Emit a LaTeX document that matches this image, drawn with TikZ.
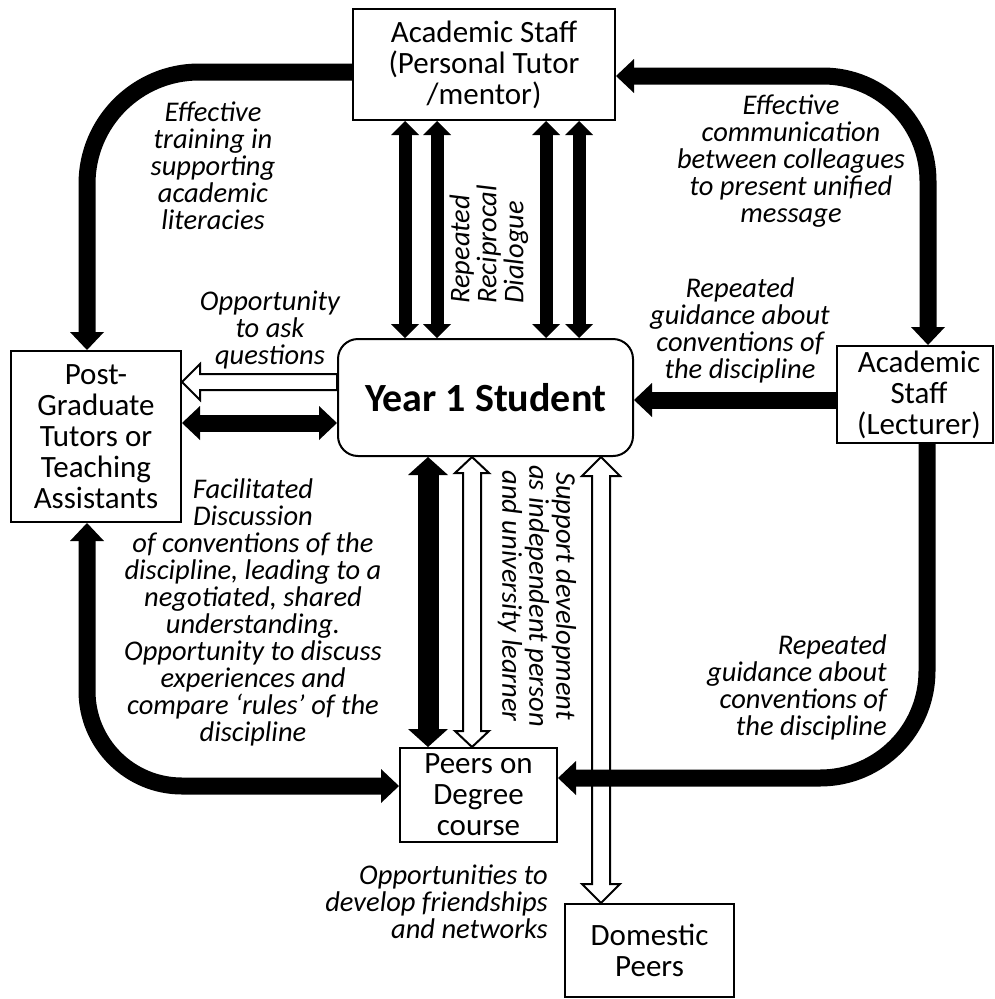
\documentclass[tikz,border=0pt]{standalone}
\usepackage{fontspec}
\setmainfont{Carlito}
\usetikzlibrary{arrows.meta,calc}

\tikzset{
  box/.style={draw, line width=2pt, fill=white, align=center, inner sep=0pt,
    font=\fontsize{31}{31}\selectfont},
  note/.style={align=center, inner sep=0pt, font=\fontsize{28.5}{27}\selectfont\itshape},
  smallhead/.tip={Triangle[width=28pt,length=14pt,line width=0pt]},
  midhead/.tip={Triangle[width=34pt,length=18pt,line width=0pt]},
  bighead/.tip={Triangle[width=40pt,length=18pt,line width=0pt]},
  thinbar/.style={line width=13pt, smallhead-smallhead},
  midbar/.style={line width=17pt},
  widebar/.style={line width=21pt, bighead-bighead},
  curvebar/.style={line width=17pt, rounded corners=#1},
  curvebar/.default=105pt,
  hollow/.style={draw, fill=white, line width=2pt, line join=miter},
}

% vertical outlined arrow with a head at both ends:
% top point, bottom point, head half width, shaft half width, head length
\newcommand\hollowpair[5]{%
  \path[hollow] let \p1=(#1), \p2=(#2) in
    (\x1,\y1) -- ({\x1+#3pt},{\y1-#5pt}) -- ({\x1+#4pt},{\y1-#5pt})
    -- ({\x1+#4pt},{\y2+#5pt}) -- ({\x1+#3pt},{\y2+#5pt}) -- (\x1,\y2)
    -- ({\x1-#3pt},{\y2+#5pt}) -- ({\x1-#4pt},{\y2+#5pt})
    -- ({\x1-#4pt},{\y1-#5pt}) -- ({\x1-#3pt},{\y1-#5pt}) -- cycle;}

% horizontal outlined arrow pointing left:
% tip point, tail point, head half width, shaft half width, head length
\newcommand\hollowleft[5]{%
  \path[hollow] let \p1=(#1), \p2=(#2) in
    (\x1,\y1) -- ({\x1+#5pt},{\y1+#3pt}) -- ({\x1+#5pt},{\y1+#4pt})
    -- (\x2,{\y1+#4pt}) -- (\x2,{\y1-#4pt}) -- ({\x1+#5pt},{\y1-#4pt})
    -- ({\x1+#5pt},{\y1-#3pt}) -- cycle;}

\begin{document}
\begin{tikzpicture}[x=1pt,y=-1pt]
\useasboundingbox[fill=white] (0,0) rectangle (994,999);

% boxes
\node[box, minimum width=262pt, minimum height=111pt] (tutor) at (484,64.5)
  {Academic Staff\\(Personal Tutor\\/mentor)};
\node[box, minimum width=170pt, minimum height=171pt] (pg) at (96,436.5)
  {Post-\\Graduate\\Tutors or\\Teaching\\Assistants};
\node[box, rounded corners=20pt, minimum width=295pt, minimum height=117pt,
  font=\fontsize{40}{40}\selectfont\bfseries] (yr) at (485.5,397.5) {Year 1 Student};
\node[box, minimum width=156pt, minimum height=97pt] (lec) at (915,394.5)
  {\hspace*{8pt}Academic\\\hspace*{8pt}Staff\\\hspace*{8pt}(Lecturer)};
\node[box, minimum width=157pt, minimum height=94pt] (peers) at (478.5,795)
  {Peers on\\Degree\\course};
\node[box, minimum width=169pt, minimum height=93pt] (dom) at (649.5,950.5)
  {Domestic\\Peers};

% guide coordinates for the connector lanes
\coordinate (tl) at (87,72);
\coordinate (tr) at (928,76);
\coordinate (bl) at (87,786);
\coordinate (br) at (927,778);
\coordinate (v1) at (405,0);
\coordinate (v2) at (437,0);
\coordinate (v3) at (546,0);
\coordinate (v4) at (579,0);
\coordinate (vp) at (428,0);
\coordinate (vh) at (472,0);
\coordinate (vd) at (601,0);
\coordinate (hq) at (0,382);
\coordinate (hb) at (0,423);
\coordinate (hl) at (0,400);

% outlined arrows
\hollowleft{pg.east |- hq}{yr.west |- hq}{18}{8}{18}
\hollowpair{yr.south -| vh}{peers.north -| vh}{17}{9}{16}
\hollowpair{yr.south -| vd}{dom.north -| vd}{19}{9}{19}

% solid straight arrows
\draw[thinbar] (tutor.south -| v1) -- (yr.north -| v1);
\draw[thinbar] (tutor.south -| v2) -- (yr.north -| v2);
\draw[thinbar] (tutor.south -| v3) -- (yr.north -| v3);
\draw[thinbar] (tutor.south -| v4) -- (yr.north -| v4);
\draw[midbar, midhead-midhead] (pg.east |- hb) -- (yr.west |- hb);
\draw[midbar, -midhead] (lec.west |- hl) -- (yr.east |- hl);
\draw[widebar] (yr.south -| vp) -- (peers.north -| vp);

% solid curved arrows around the outside
\draw[curvebar=112pt, -midhead] (tutor.west |- tl) -| (pg.north -| tl);
\draw[curvebar=105pt, midhead-midhead] (lec.north -| tr) |- (tutor.east |- tr);
\draw[curvebar=95pt, midhead-midhead] (pg.south -| bl) |- (peers.west |- bl);
\draw[curvebar=107pt, -midhead] (lec.south -| br) |- (peers.east |- br);

% labels
\node[note] (t1) at (213,166) {Effective\\training in\\supporting\\academic\\literacies};
\node[note] (t2) at (791,161) {Effective\\communication\\between colleagues\\to present unified\\message};
\node[note] (t3) at (740,330) {Repeated\\guidance about\\conventions of\\the discipline};
\node[note] (t4) at (270,330) {Opportunity\\to ask\\questions};
\node[note, align=left, rotate=90, anchor=west] (t5) at (489,304) {Repeated\\Reciprocal\\Dialogue};
\node[note, rotate=-90] (t6) at (537,596) {Support development\\as independent person\\and university learner};
\node[note] (t7) at (253,612) {Facilitated\\Discussion\\of conventions of the\\discipline, leading to a\\negotiated, shared\\understanding.\\Opportunity to discuss\\experiences and\\compare ‘rules’ of the\\discipline};
\node[note, align=right, anchor=east] (t8) at (887,687) {Repeated\\guidance about\\conventions of\\the discipline};
\node[note, align=right, anchor=east] (t9) at (548,902) {Opportunities to\\develop friendships\\and networks};
\end{tikzpicture}
\end{document}
